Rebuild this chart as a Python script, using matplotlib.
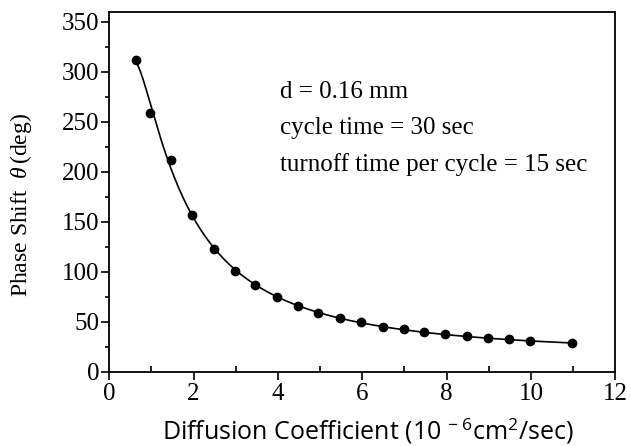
import matplotlib
matplotlib.use("Agg")
import matplotlib.pyplot as plt
from matplotlib.ticker import MultipleLocator
import numpy as np

# diffusion coefficient (1e-6 cm^2/sec) and phase shift (deg)
diff_coef = [0.64, 0.97, 1.47, 1.97, 2.49, 2.98, 3.47, 3.99, 4.48, 4.95,
             5.47, 5.97, 6.49, 6.98, 7.47, 7.97, 8.48, 8.98, 9.48, 9.97, 10.98]
phase_shift = [312, 259, 212, 157, 123, 101, 86.5, 75, 65.5, 59,
               54, 49.5, 45, 42.5, 40, 37.5, 35.5, 34, 32.5, 31, 28.5]

notes = ["d = 0.16 mm", "cycle time = 30 sec", "turnoff time per cycle = 15 sec"]

plt.rcParams['font.family'] = ['Liberation Serif', 'DejaVu Serif']
plt.rcParams['mathtext.fontset'] = 'custom'
plt.rcParams['mathtext.rm'] = 'Open Sans'
plt.rcParams['mathtext.it'] = 'Liberation Serif:italic'

fig = plt.figure(figsize=(6.31, 4.46), dpi=100)
ax = fig.add_axes([0.173, 0.166, 0.802, 0.808])

# smooth trend line: cubic fit in log-log space
coef = np.polyfit(np.log(diff_coef), np.log(phase_shift), 3)
xs = np.linspace(min(diff_coef), max(diff_coef), 300)
ax.plot(xs, np.exp(np.polyval(coef, np.log(xs))), color='black', linewidth=1.2)
ax.plot(diff_coef, phase_shift, 'o', color='black', markersize=6)

ax.set_xlim(0, 12)
ax.set_ylim(0, 360)
ax.xaxis.set_major_locator(MultipleLocator(2))
ax.xaxis.set_minor_locator(MultipleLocator(1))
ax.yaxis.set_major_locator(MultipleLocator(50))
ax.yaxis.set_minor_locator(MultipleLocator(25))
ax.tick_params(axis='x', which='major', direction='out', length=6, width=1.2, labelsize=18, pad=2)
ax.tick_params(axis='x', which='minor', direction='in', length=4, width=1.2)
ax.tick_params(axis='y', which='major', direction='out', length=6, width=1.2, labelsize=18, pad=1)
ax.tick_params(axis='y', which='minor', direction='out', length=3, width=1.2)
for sp in ax.spines.values():
    sp.set_linewidth(1.3)

ax.set_xlabel(r"Diffusion Coefficient (10 $^{\mathrm{-\ 6}}$cm$^{\mathrm{2}}$/sec)",
              family='Open Sans', fontsize=18, labelpad=8)
ax.xaxis.label.set_x(0.512)
ax.set_ylabel(r"Phase Shift  $\theta\,$(deg)", fontsize=17)
ax.yaxis.set_label_coords(-0.148, 0.464)

for i, t in enumerate(notes):
    ax.text(4.05, 280 - i * 36.5, t, fontsize=18, va='center', ha='left')

fig.savefig("out.png", dpi=100)
